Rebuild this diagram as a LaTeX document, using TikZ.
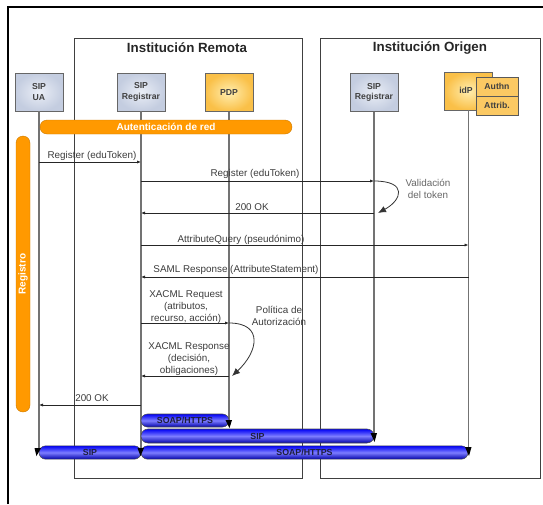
\documentclass[tikz,border=0pt]{standalone}
\usepackage{fontspec}
\setmainfont{Liberation Sans}
\usetikzlibrary{arrows.meta,shapes.misc}
\definecolor{sipfill}{RGB}{196,205,224}
\definecolor{sipin}{RGB}{234,238,246}
\definecolor{pdpfill}{RGB}{250,192,72}
\definecolor{pdpin}{RGB}{255,238,175}
\definecolor{orangebar}{RGB}{255,153,0}
\definecolor{msgtext}{RGB}{60,60,60}
\definecolor{bluedark}{RGB}{0,0,245}
\definecolor{bluebottom}{RGB}{0,0,170}
\definecolor{bluelight}{RGB}{125,125,255}
\definecolor{bartext}{RGB}{30,30,60}
\tikzset{
  grouptitle/.style={font=\fontsize{10}{12}\selectfont\bfseries, text=black!85},
  groupbox/.style={draw=black!75, line width=0.6pt},
  entity/.style={draw=black!60, line width=0.7pt, minimum width=36pt, minimum height=28.5pt,
     align=center, font=\fontsize{6.5}{8}\selectfont\bfseries, text=black!75, inner sep=1pt},
  sipbox/.style={entity, inner color=sipin, outer color=sipfill},
  pdpbox/.style={entity, inner color=pdpin, outer color=pdpfill},
  smallbox/.style={draw=black!65, line width=0.7pt, fill=pdpfill!85!white, minimum width=31.5pt,
     minimum height=14.25pt, font=\fontsize{6.5}{7}\selectfont\bfseries, text=black!75, inner sep=0pt},
  boxtext/.style={font=\fontsize{6.5}{8}\selectfont\bfseries, text=black!75, inner sep=0pt},
  lifeline/.style={draw=black!55, line width=1pt},
  msg/.style={draw=black!85, line width=0.6pt, -{Latex[length=3pt,width=2.4pt]}},
  msglabel/.style={font=\fontsize{7.4}{9}\selectfont, text=msgtext, align=center, inner sep=0pt},
  loop/.style={draw=black!80, line width=0.6pt, -{Latex[length=6pt,width=5pt]}},
  orangepill/.style={rounded rectangle, fill=orangebar, draw=orangebar!80!black, line width=0.3pt,
     text=white, font=\fontsize{7.5}{8}\selectfont\bfseries, inner sep=0pt},
  bluepill/.style={rounded rectangle, draw=black!70, line width=0.4pt, top color=bluedark,
     bottom color=bluebottom, middle color=bluelight, text=bartext,
     font=\fontsize{6.6}{7}\selectfont\bfseries, inner sep=0pt, minimum height=10pt},
  tip/.style={fill=black}
}
\begin{document}
\begin{tikzpicture}[x=0.75pt,y=-0.75pt]
\useasboundingbox (0,0) rectangle (543,504);
% outer frame
\draw[line width=1pt] (8,504) -- (8,7) -- (543,7);

% groups
\draw[groupbox] (74,38) rectangle (302,478);
\draw[groupbox] (320,38) rectangle (540,478);
\node[grouptitle] (tRem) at (187,48) {Institución Remota};
\node[grouptitle] (tOri) at (430,48) {Institución Origen};

% entities
\node[sipbox] (ua) at (39,92) {SIP\\UA};
\node[sipbox] (regR) at (141,92) {SIP\\Registrar};
\node[pdpbox] (pdp) at (229,92.5) {PDP};
\node[sipbox] (regO) at (374,92.5) {SIP\\Registrar};
\node[pdpbox] (idp) at (468.5,91) {};
\node[boxtext] (idpt) at (466,90) {idP};
\node[smallbox] (authn) at (497,86.5) {Authn};
\node[smallbox] (attrib) at (497,105.5) {Attrib.};

% lifeline ends
\coordinate (uaEnd) at (39,452);
\coordinate (regREnd) at (141,452);
\coordinate (pdpEnd) at (229,424);
\coordinate (regOEnd) at (374,436);
\coordinate (idpEnd) at (468.5,451);
\draw[lifeline] (ua.south) -- (uaEnd);
\draw[lifeline] (regR.south) -- (regREnd);
\draw[lifeline] (pdp.south) -- (pdpEnd);
\draw[lifeline] (regO.south) -- (regOEnd);
\draw[lifeline] (idp.south) -- (idpEnd);

% orange bars
\node[orangepill, minimum width=189pt, minimum height=10.5pt] (auth) at (166,127) {Autenticación de red};
\node[orangepill, rotate=90, minimum width=207pt, minimum height=10.5pt] (registro) at (23,274) {Registro};

% message coordinates
\coordinate (m1a) at (39,162);   \coordinate (m1b) at (141,162);
\coordinate (m2a) at (141,181);  \coordinate (m2b) at (374,181);
\coordinate (m3a) at (374,213);  \coordinate (m3b) at (141,213);
\coordinate (m4a) at (141,245);  \coordinate (m4b) at (468.5,245);
\coordinate (m5a) at (468.5,277);\coordinate (m5b) at (141,277);
\coordinate (m6a) at (141,323);  \coordinate (m6b) at (229,323);
\coordinate (m7a) at (229,376);  \coordinate (m7b) at (141,376);
\coordinate (m8a) at (141,405);  \coordinate (m8b) at (39,405);
\coordinate (v1) at (378,213);
\coordinate (p1) at (232,376);

\draw[msg] (m1a) -- (m1b);
\draw[msg] (m2a) -- (m2b);
\draw[msg] (m3a) -- (m3b);
\draw[msg] (m4a) -- (m4b);
\draw[msg] (m5a) -- (m5b);
\draw[msg] (m6a) -- (m6b);
\draw[msg] (m7a) -- (m7b);
\draw[msg] (m8a) -- (m8b);

\draw[loop] (m2b) .. controls (408,181) and (402,200) .. (v1);
\draw[loop] (m6b) .. controls (264,323) and (258,352) .. (p1);

% labels
\node[msglabel] (l1) at (92,156) {Register (eduToken)};
\node[msglabel] (l2) at (255,174) {Register (eduToken)};
\node[msglabel, text=black!60] (l3) at (428,189) {Validación\\del token};
\node[msglabel] (l4) at (252,207) {200 OK};
\node[msglabel] (l5) at (241,240) {AttributeQuery (pseudónimo)};
\node[msglabel] (l6) at (236,270) {SAML Response (AttributeStatement)};
\node[msglabel] (l7) at (186,307.5) {XACML Request\\(atributos,\\recurso, acción)};
\node[msglabel] (l8) at (279,316) {Política de\\Autorización};
\node[msglabel] (l9) at (189,359) {XACML Response\\(decisión,\\obligaciones)};
\node[msglabel] (l10) at (92,398) {200 OK};

% blue transport bars
\node[bluepill, minimum width=66pt, minimum height=9.75pt] (b1) at (185,420.5) {SOAP/HTTPS};
\node[bluepill, minimum width=174.75pt, minimum height=10.5pt] (b2) at (257.5,436) {SIP};
\node[bluepill, minimum width=76.5pt, minimum height=10pt] (b3) at (90,452.5) {SIP};
\node[bluepill, minimum width=245.25pt, minimum height=10pt] (b4) at (304.5,452.5) {SOAP/HTTPS};

% arrowheads on bars
\fill[tip] (225.5,420) -- (232,420) -- (229.5,428) -- cycle;
\fill[tip] (370.5,433) -- (377,433) -- (374.5,442) -- cycle;
\fill[tip] (34.5,448) -- (41,448) -- (36.5,456) -- cycle;
\fill[tip] (137.5,448) -- (144,448) -- (140.5,456) -- cycle;
\fill[tip] (465,447) -- (471.5,447) -- (469,456) -- cycle;
\end{tikzpicture}
\end{document}
